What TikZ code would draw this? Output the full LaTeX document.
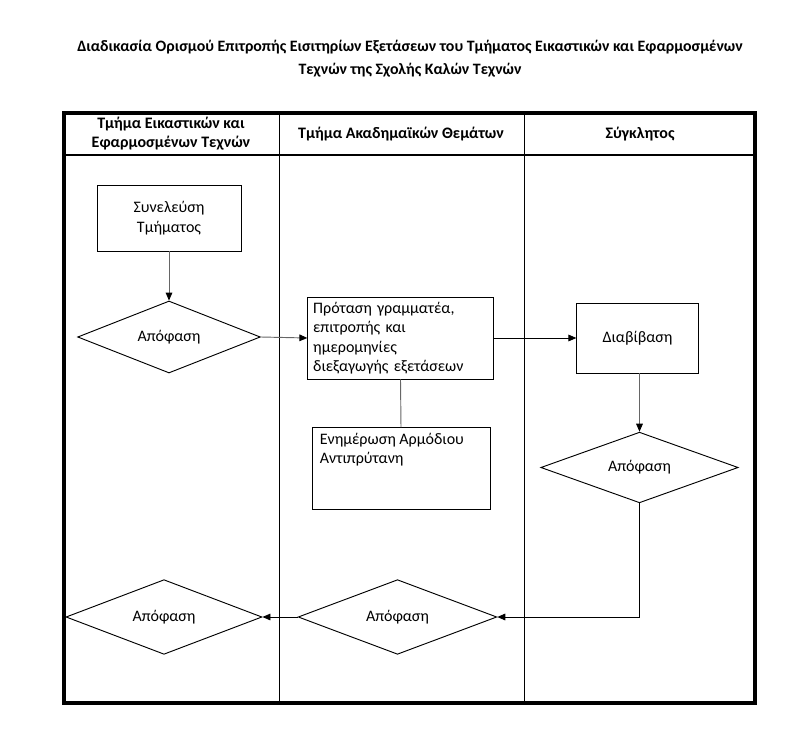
\documentclass[tikz,border=0pt]{standalone}
\usepackage{fontspec}
\setmainfont{Carlito}
\usetikzlibrary{shapes.geometric,arrows.meta}
\tikzset{
  procbox/.style={draw, rectangle, line width=0.7pt, inner sep=0pt, align=center},
  decision/.style={draw, diamond, aspect=3, inner sep=0pt, line width=0.7pt},
  lanehead/.style={font=\bfseries\fontsize{12}{14.3}\selectfont, align=center},
  flow/.style={-{Triangle[length=6pt,width=5pt,color=black]}, line width=0.7pt},
  grayflow/.style={flow, draw=gray!80!black},
}
\begin{document}
\begin{tikzpicture}[x=0.75pt,y=-0.75pt, font=\fontsize{12}{14.6}\selectfont]
\useasboundingbox (0,0) rectangle (793,731);
% title
\node[font=\bfseries\fontsize{11.9}{17}\selectfont, align=center] (title) at (410,58.5)
  {Διαδικασία Ορισμού Επιτροπής Εισιτηρίων Εξετάσεων του Τμήματος Εικαστικών και Εφαρμοσμένων\\Τεχνών της Σχολής Καλών Τεχνών};
% swimlanes
\draw[line width=3pt] (64,113) rectangle (755,703);
\draw[line width=1.5pt] (64,155) -- (755,155);
\draw[line width=0.6pt] (279,113) -- (279,703);
\draw[line width=0.6pt] (524,113) -- (524,703);
\node[lanehead] (laneA) at (171,134) {Τμήμα Εικαστικών και\\Εφαρμοσμένων Τεχνών};
\node[lanehead] (laneB) at (401,134) {Τμήμα Ακαδημαϊκών Θεμάτων};
\node[lanehead] (laneC) at (640,134) {Σύγκλητος};
% steps
\node[procbox, minimum width=108pt, minimum height=49.5pt] (meeting) at (169,218) {Συνελεύση\\Τμήματος};
\node[decision, minimum width=137pt, minimum height=54pt] (dec1) at (169,337) {Απόφαση};
\node[procbox, minimum width=139pt, minimum height=61.5pt, text width=131pt, align=left] (proposal) at (400.5,338)
  {Πρόταση γραμματέα,\\επιτροπής και\\ημερομηνίες\\διεξαγωγής εξετάσεων};
\node[procbox, minimum width=133.5pt, minimum height=61pt,
  label={[anchor=north west, align=left, inner sep=0pt, xshift=6pt, yshift=-4pt]north west:Ενημέρωση Αρμόδιου\\Αντιπρύτανη}]
  (inform) at (401,468.5) {};
\node[procbox, minimum width=91pt, minimum height=52.5pt] (forward) at (637.5,338) {Διαβίβαση};
\node[decision, minimum width=148pt, minimum height=53pt] (dec2) at (639.5,467.5) {Απόφαση};
\node[decision, minimum width=149pt, minimum height=56pt] (dec3) at (397.5,617) {Απόφαση};
\node[decision, minimum width=147pt, minimum height=56pt] (dec4) at (164,617) {Απόφαση};
% connectors
\draw[grayflow] (meeting) -- (dec1);
\draw[grayflow] (dec1.east) -- (proposal.west);
\draw[line width=0.7pt, gray!80!black] (proposal.south) -- (inform.north);
\draw[flow] (proposal.east) -- (forward.west);
\draw[grayflow] (forward.south -| dec2.north) -- (dec2.north);
\draw[flow] (dec2.south) |- (dec3.east);
\draw[flow] (dec3.west) -- (dec4.east);
\end{tikzpicture}
\end{document}
